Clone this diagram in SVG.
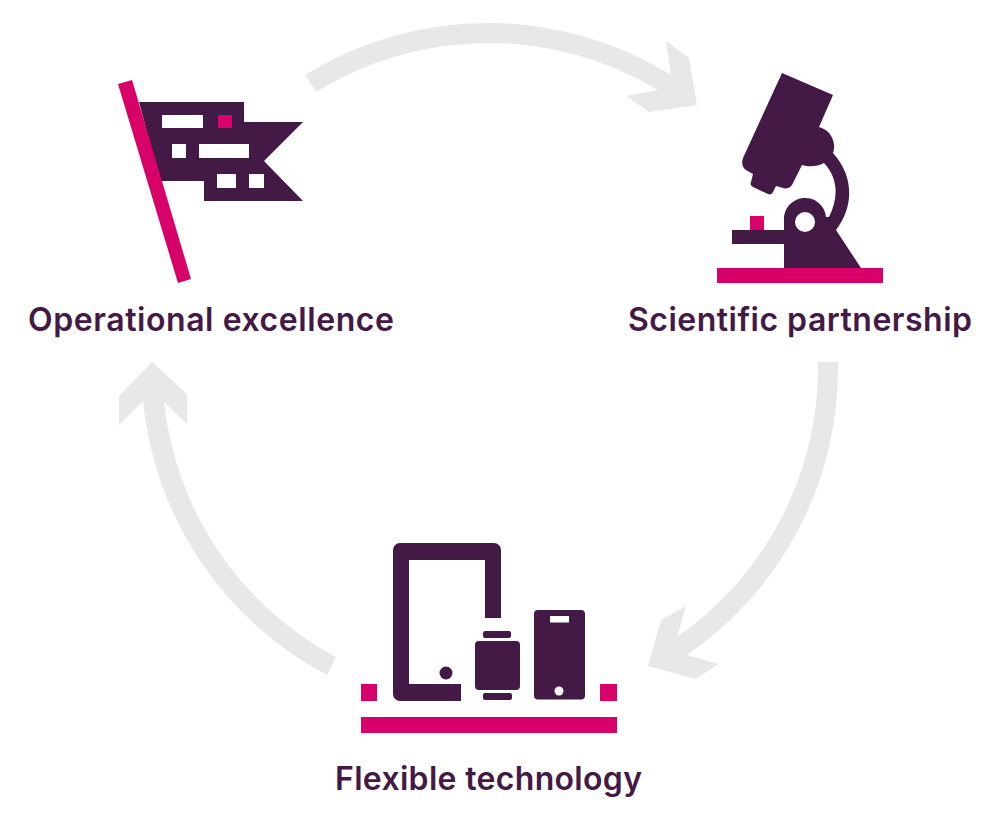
<svg xmlns="http://www.w3.org/2000/svg" width="1000" height="833" viewBox="0 0 1000 833">
<style>
.d{fill:#431a45}.m{fill:#d80069}.w{fill:#fff}
.a{fill:#e8e8e8}
text{font-family:"Inter","Noto Sans",sans-serif;font-weight:600;font-size:32px;fill:#431a45;font-variant-ligatures:none}
</style>
<rect width="1000" height="833" fill="#fff"/>
<g id="connectors">
<path class="a" d="M305 75A348 348 0 0 1 671 75L666 41L689 58L697 105L649 112L626 96L658 90A328 328 0 0 0 316 92Z"/>
<path class="a" d="M818 362H838A348 348 0 0 1 687 655L719 664L695 679L648 666L661 620L686 606L677 637A328 328 0 0 0 818 362Z"/>
<path class="a" d="M336 657L327 675A348 348 0 0 1 143 401L119 425V396L152 362L187 394V424L164 402A328 328 0 0 0 336 657Z"/>
</g>
<g id="operational-excellence">
<path class="d" d="M139 102H244V122H303L264 161L303 201H204V181H160Z"/>
<path class="m" d="M118 84L132 80L191 279L178 283Z"/>
<rect class="w" x="162" y="115" width="41" height="13"/>
<rect class="m" x="218" y="115" width="14" height="13"/>
<rect class="w" x="172" y="144" width="14" height="14"/>
<rect class="w" x="199" y="144" width="50" height="14"/>
<rect class="w" x="217" y="174" width="19" height="14"/>
<rect class="w" x="249" y="174" width="15" height="14"/>
<text x="28" y="331" textLength="366" lengthAdjust="spacing">Operational excellence</text>
</g>
<g id="scientific-partnership">
<path class="d" d="M782 73L833 95L819 127A20 20 0 0 1 833 153C853 175 855 205 836 230L861 268H784V244H732V230H784V221A21 21 0 0 1 826 217L829 217C839 197 838 178 824 163C817 167 808 167 802 165L792 185C790 188 786 189 783 188L776 186L773 192C772 194 770 195 768 194L753 187C751 186 750 184 751 182L753 174L746 170C743 168 741 164 743 158Z"/>
<circle class="w" cx="805" cy="222" r="10"/>
<rect class="m" x="750" y="216" width="14" height="14"/>
<rect class="m" x="717" y="268" width="166" height="15"/>
<text x="628" y="331" textLength="344" lengthAdjust="spacing">Scientific partnership</text>
</g>
<g id="flexible-technology">
<path class="d" d="M400 543H494A7 7 0 0 1 501 550V618H485V560H409V684H461V701H400A7 7 0 0 1 393 694V550A7 7 0 0 1 400 543Z"/>
<circle class="d" cx="446" cy="673" r="6.500"/>
<rect class="d" x="483" y="631" width="28" height="7" rx="2"/>
<rect class="d" x="475" y="641" width="45" height="49" rx="4"/>
<rect class="d" x="483" y="693" width="29" height="7" rx="2"/>
<rect class="d" x="534" y="610" width="51" height="89.500" rx="4"/>
<rect class="w" x="550" y="616" width="19" height="6.500"/>
<circle class="w" cx="559" cy="691" r="4.500"/>
<rect class="m" x="361" y="684" width="16" height="17"/>
<rect class="m" x="600" y="684" width="17" height="17"/>
<rect class="m" x="361" y="717" width="256" height="16"/>
<text x="335" y="790" textLength="307" lengthAdjust="spacing">Flexible technology</text>
</g>
</svg>
